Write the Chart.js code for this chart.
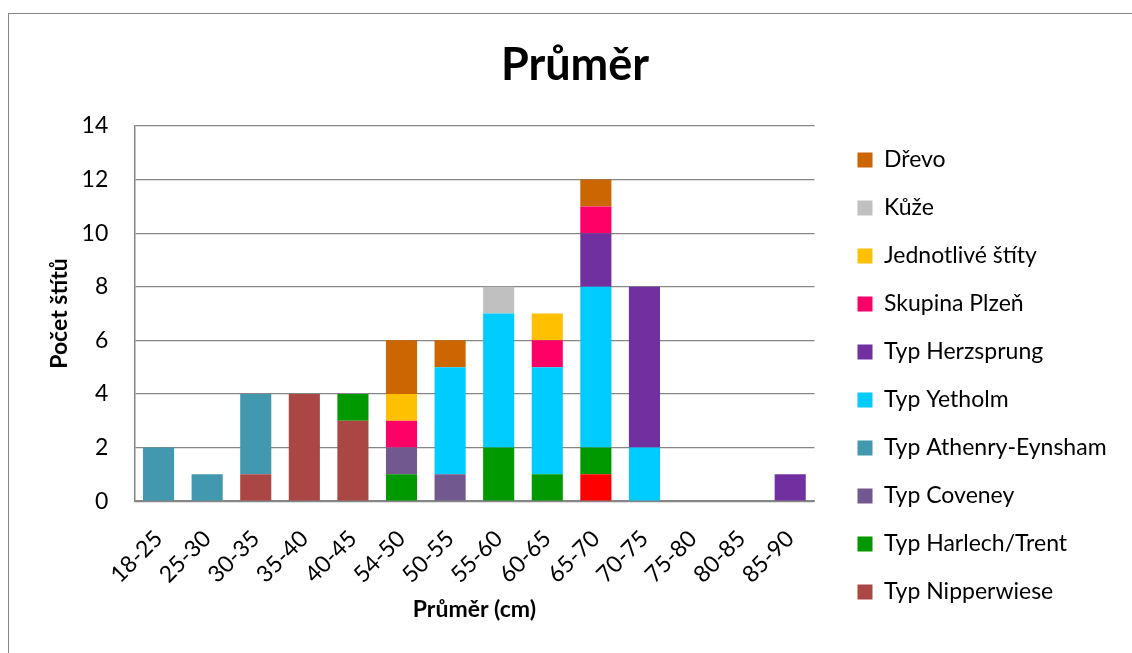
<!DOCTYPE html>
<html>
<head>
<meta charset="utf-8">
<script src="https://cdn.jsdelivr.net/npm/chart.js@4.4.1/dist/chart.umd.min.js"></script>
<style>
  html, body { margin: 0; padding: 0; background: #fff; }
  #frame {
    position: absolute; left: 8px; top: 13px; width: 1200px; height: 700px;
    border-left: 1px solid #868686; border-top: 1px solid #868686;
  }
  #wrap { position: absolute; left: 0; top: 0; width: 1132px; height: 653px; }
</style>
</head>
<body>
<div id="frame"></div>
<div id="wrap"><canvas id="graf"></canvas></div>
<script>
// kategorie (průměr v cm)
const kategorie = ['18-25', '25-30', '30-35', '35-40', '40-45', '54-50', '50-55',
                   '55-60', '60-65', '65-70', '70-75', '75-80', '80-85', '85-90'];

// počty štítů podle typu
const bezNazvu     = [0, 0, 0, 0, 0, 0, 0, 0, 0, 1, 0, 0, 0, 0];
const nipperwiese  = [0, 0, 1, 4, 3, 0, 0, 0, 0, 0, 0, 0, 0, 0];
const harlech      = [0, 0, 0, 0, 1, 1, 0, 2, 1, 1, 0, 0, 0, 0];
const coveney      = [0, 0, 0, 0, 0, 1, 1, 0, 0, 0, 0, 0, 0, 0];
const athenry      = [2, 1, 3, 0, 0, 0, 0, 0, 0, 0, 0, 0, 0, 0];
const yetholm      = [0, 0, 0, 0, 0, 0, 4, 5, 4, 6, 2, 0, 0, 0];
const herzsprung   = [0, 0, 0, 0, 0, 0, 0, 0, 0, 2, 6, 0, 0, 1];
const plzen        = [0, 0, 0, 0, 0, 1, 0, 0, 1, 1, 0, 0, 0, 0];
const jednotlive   = [0, 0, 0, 0, 0, 1, 0, 0, 1, 0, 0, 0, 0, 0];
const kuze         = [0, 0, 0, 0, 0, 0, 0, 1, 0, 0, 0, 0, 0, 0];
const drevo        = [0, 0, 0, 0, 0, 2, 1, 0, 0, 1, 0, 0, 0, 0];

const pismo = 'Lato, "DejaVu Sans", sans-serif';
const seda = '#868686';

// mezera mezi grafem a legendou + vycentrování nadpisu
const posunLegendy = {
    id: 'posunLegendy',
    afterLayout(chart) {
        chart.legend.left += 18;
        chart.legend.right = chart.width;
        chart.legend.width = chart.legend.right - chart.legend.left;
        chart.titleBlock.left += 26;
        chart.titleBlock.right += 26;
    }
};

const serie = (label, data, barva) => ({
    label: label,
    data: data,
    backgroundColor: barva,
    borderWidth: 0,
    barPercentage: 0.64,
    categoryPercentage: 1.0
});

new Chart(document.getElementById('graf').getContext('2d'), {
    type: 'bar',
    data: {
        labels: kategorie,
        datasets: [
            serie('', bezNazvu, '#FF0000'),
            serie('Typ Nipperwiese', nipperwiese, '#AA4643'),
            serie('Typ Harlech/Trent', harlech, '#009900'),
            serie('Typ Coveney', coveney, '#71588F'),
            serie('Typ Athenry-Eynsham', athenry, '#4198AF'),
            serie('Typ Yetholm', yetholm, '#00CCFF'),
            serie('Typ Herzsprung', herzsprung, '#7030A0'),
            serie('Skupina Plzeň', plzen, '#FF0066'),
            serie('Jednotlivé štíty', jednotlive, '#FFC000'),
            serie('Kůže', kuze, '#C0C0C0'),
            serie('Dřevo', drevo, '#CC6600')
        ]
    },
    options: {
        responsive: true,
        maintainAspectRatio: false,
        animation: false,
        layout: { padding: { left: 18, right: 52, top: 13, bottom: 10 } },
        plugins: {
            title: {
                display: true,
                text: 'Průměr',
                color: '#000',
                font: { family: pismo, size: 45, weight: 'bold' },
                padding: { top: 25.7, bottom: 33.3 }
            },
            legend: {
                position: 'right',
                align: 'start',
                reverse: true,
                title: { display: true, text: ' ', padding: { top: 40, bottom: 47.7 }, font: { size: 19 } },
                labels: {
                    boxWidth: 15,
                    boxHeight: 15,
                    padding: 25,
                    color: '#000',
                    font: { family: pismo, size: 23 },
                    filter: (item) => item.text !== ''
                }
            },
            tooltip: { enabled: false }
        },
        scales: {
            x: {
                stacked: true,
                grid: { display: false, drawTicks: false },
                border: { color: seda, width: 1.5 },
                ticks: {
                    color: '#000',
                    font: { family: pismo, size: 23 },
                    maxRotation: 45,
                    minRotation: 45,
                    padding: 24
                },
                title: {
                    display: true,
                    text: 'Průměr (cm)',
                    color: '#000',
                    font: { family: pismo, size: 23, weight: 'bold' },
                    padding: { top: -17, bottom: 20 }
                }
            },
            y: {
                stacked: true,
                min: 0,
                max: 14,
                grid: { color: seda, lineWidth: 1.2, drawTicks: false },
                border: { color: seda, width: 1.5 },
                ticks: {
                    stepSize: 2,
                    color: '#000',
                    font: { family: pismo, size: 23 },
                    padding: 26
                },
                title: {
                    display: true,
                    text: 'Počet štítů',
                    color: '#000',
                    font: { family: pismo, size: 23, weight: 'bold' },
                    padding: { top: 28, bottom: -18 }
                }
            }
        }
    },
    plugins: [posunLegendy]
});
</script>
</body>
</html>
